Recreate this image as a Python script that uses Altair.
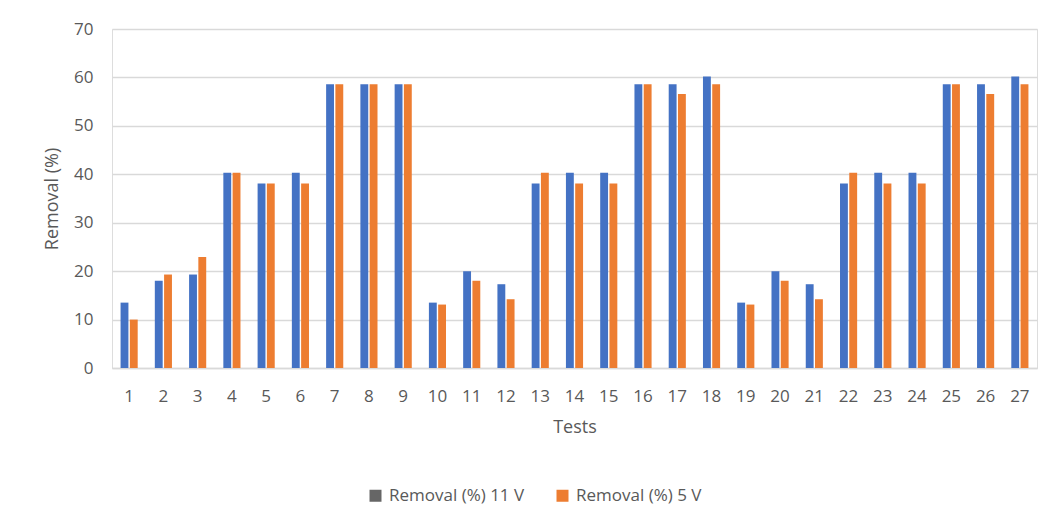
import altair as alt
import pandas as pd

tests = list(range(1, 28))
series_names = ["Removal (%) 11 V", "Removal (%) 5 V"]
removal_11v = [13.5, 18.0, 19.3, 40.3, 38.1, 40.3, 58.6, 58.6, 58.6,
               13.5, 20.0, 17.3, 38.1, 40.3, 40.3, 58.6, 58.6, 60.2,
               13.5, 20.0, 17.3, 38.1, 40.3, 40.3, 58.6, 58.6, 60.2]
removal_5v = [10.0, 19.3, 22.9, 40.3, 38.1, 38.1, 58.6, 58.6, 58.6,
              13.1, 18.0, 14.2, 40.3, 38.1, 38.1, 58.6, 56.6, 58.6,
              13.1, 18.0, 14.2, 40.3, 38.1, 38.1, 58.6, 56.6, 58.6]
y_ticks = [0, 10, 20, 30, 40, 50, 60, 70]

bar_colors = ["#4472C4", "#ED7D31"]
legend_colors = ["#666666", "#ED7D31"]
FONT = "Open Sans"
GREY = "#595959"

rows = []
for t, a, b in zip(tests, removal_11v, removal_5v):
    rows.append({"test": t, "series": series_names[0], "value": a})
    rows.append({"test": t, "series": series_names[1], "value": b})
df = pd.DataFrame(rows)

x_enc = alt.X("test:O", scale=alt.Scale(paddingInner=0.5, paddingOuter=0.25),
              axis=alt.Axis(title="Tests", labelAngle=0, labelFontSize=17, labelColor=GREY,
                            labelFont=FONT, ticks=False, tickSize=0, labelPadding=20,
                            domainColor="#D9D9D9", domainWidth=1.5,
                            titleFont=FONT, titleFontSize=18, titleColor=GREY,
                            titleFontWeight="normal", titlePadding=14, grid=False))
y_enc = alt.Y("value:Q", scale=alt.Scale(domain=[0, 70], nice=False),
              axis=alt.Axis(title="Removal (%)", values=y_ticks, labelFontSize=17,
                            labelColor=GREY, labelFont=FONT, ticks=False, tickSize=0,
                            labelPadding=19, domain=False, gridColor="#D9D9D9",
                            gridWidth=1.5, titleFont=FONT, titleFontSize=18,
                            titleColor=GREY, titleFontWeight="normal", titlePadding=12))
xo_enc = alt.XOffset("series:N", sort=series_names, scale=alt.Scale(paddingInner=0.15))

bars = alt.Chart(df).mark_bar().encode(
    x=x_enc, y=y_enc, xOffset=xo_enc,
    color=alt.Color("series:N", scale=alt.Scale(domain=series_names, range=bar_colors), legend=None),
)

legend_layer = alt.Chart(df).mark_square(size=0, opacity=1).encode(
    x=x_enc, y=y_enc, xOffset=xo_enc,
    color=alt.Color("series:N", scale=alt.Scale(domain=series_names, range=legend_colors),
                    legend=alt.Legend(title=None, orient="none", legendX=255, legendY=458,
                                      direction="horizontal", symbolType="square", symbolSize=144,
                                      symbolStrokeWidth=0, symbolOpacity=1, labelFontSize=17,
                                      labelColor=GREY, labelFont=FONT, columnPadding=29,
                                      labelOffset=5, padding=0)),
)

chart = alt.layer(bars, legend_layer).resolve_scale(
    color="independent"
).properties(
    width=925, height=339,
    autosize=alt.AutoSizeParams(type="none"),
    padding={"left": 104, "top": 21, "right": 8, "bottom": 140},
).configure_view(stroke=None).configure(background="white")

chart.save("out.html", embed_options={"renderer": "svg", "actions": False})
